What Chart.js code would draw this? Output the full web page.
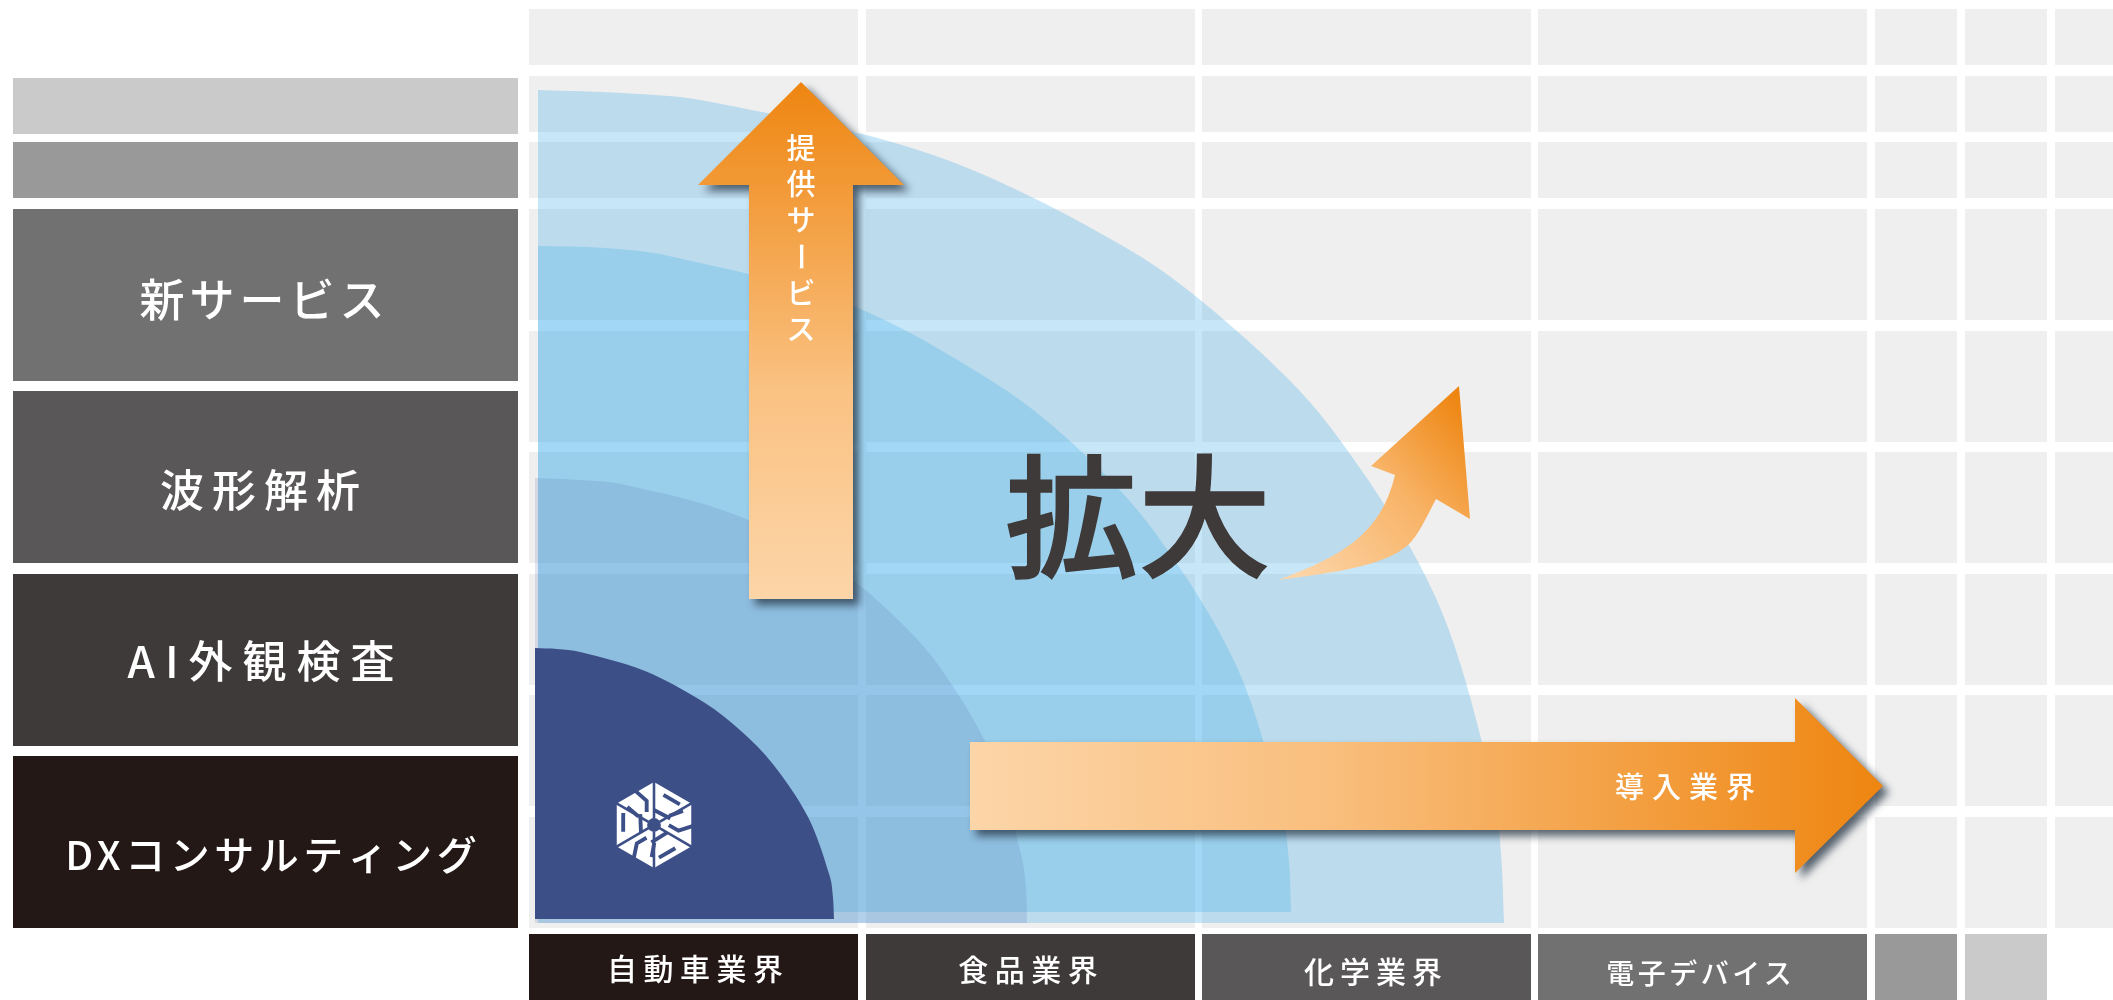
<!DOCTYPE html>
<html lang="ja">
<head>
<meta charset="utf-8">
<title>提供サービスと導入業界の拡大</title>
<style>
  html, body { margin: 0; padding: 0; background: #ffffff; }
  canvas { display: block; }
</style>
<script src="https://cdn.jsdelivr.net/npm/chart.js@4/dist/chart.umd.min.js"></script>
</head>
<body>
<canvas id="chart" width="2113" height="1000"></canvas>
<script>
// Labels
const serviceLabels = ['', '', '新サービス', '波形解析', 'AI外観検査', 'DXコンサルティング'];
const industryLabels = ['自動車業界', '食品業界', '化学業界', '電子デバイス', '', ''];
const verticalArrowLabel = ['提', '供', 'サ', 'ー', 'ビ', 'ス'];
const horizontalArrowLabel = '導入業界';
const centerLabel = '拡大';

// Matrix bands, as [start, end] on the schematic axes
const columnBands = [[529, 858], [866, 1195], [1202, 1531], [1538, 1867], [1875, 1957], [1965, 2047], [2055, 2113]];
const rowBands = [[9, 65], [76, 132], [142, 198], [209, 320], [331, 442], [452, 563], [574, 685], [695, 806], [817, 928]];
const serviceBands = [[78, 134], [142, 198], [209, 381], [391, 563], [574, 746], [756, 928]];
const industryBands = [[529, 858], [866, 1195], [1202, 1531], [1538, 1867], [1875, 1957], [1965, 2047]];

// Outlines of the four coverage areas
const outerArea = [[538,90],[623,93],[706,101],[933,155],[1128,249],[1238,332],[1331,428],[1435,596],[1493,786],[1501,854],[1504,923]];
const secondArea = [[538,246],[605,248],[669,256],[846,303],[998,385],[1084,454],[1156,534],[1237,667],[1282,812],[1289,862],[1291,912]];
const thirdArea = [[535,478],[578,480],[621,484],[736,515],[836,568],[892,614],[939,666],[992,756],[1021,854],[1026,888],[1027,923]];
const coreArea = [[535,648],[557,649],[580,652],[645,671],[705,703],[741,731],[772,763],[808,817],[830,877],[833,898],[834,919]];

const asPoints = list => list.map(([x, y]) => ({ x, y }));

const GREYS = ['#cacaca', '#999999', '#727171', '#595757', '#3e3a39', '#231815'];
const JP = '"Noto Sans CJK JP", "Noto Sans", sans-serif';
const ORANGE = '#ee8510';
const PEACH = '#fcd5a8';

function drawLabel(ctx, text, cx, cy, size, spacing, color, weight) {
  ctx.save();
  ctx.font = `${weight || 500} ${size}px ${JP}`;
  ctx.letterSpacing = `${spacing}px`;
  ctx.fillStyle = color || '#ffffff';
  ctx.textAlign = 'center';
  ctx.textBaseline = 'middle';
  ctx.fillText(text, cx + spacing / 2, cy);
  ctx.restore();
}

function outline(ctx, x, y, points) {
  ctx.beginPath();
  points.forEach(([px, py], i) => {
    if (i === 0) ctx.moveTo(x(px), y(py));
    else ctx.lineTo(x(px), y(py));
  });
  ctx.closePath();
}

// Company mark: a hexagon cut by radial slits, with a pair of letter-like
// pieces repeated three times around the centre
function drawMark(ctx, cx, cy, R, fieldColor) {
  const seg = (pts, width) => {
    ctx.lineWidth = R * width;
    ctx.beginPath();
    pts.forEach(([px, py], i) => {
      if (i === 0) ctx.moveTo(px * R, py * R);
      else ctx.lineTo(px * R, py * R);
    });
    ctx.stroke();
  };
  ctx.save();
  ctx.translate(cx, cy);
  ctx.fillStyle = '#ffffff';
  ctx.beginPath();
  for (let k = 0; k < 6; k++) {
    const a = k * Math.PI / 3;
    const px = R * Math.sin(a), py = -R * Math.cos(a);
    if (k === 0) ctx.moveTo(px, py); else ctx.lineTo(px, py);
  }
  ctx.closePath();
  ctx.fill();
  ctx.strokeStyle = fieldColor;
  ctx.lineJoin = 'miter';
  for (let k = 0; k < 3; k++) {
    ctx.save();
    ctx.rotate(k * 2 * Math.PI / 3);
    seg([[0, -1.05], [0, -0.15]], 0.06);
    seg([[0.91, -0.525], [0.13, -0.075]], 0.06);
    seg([[0.22, -0.70], [0.60, -0.48]], 0.09);
    seg([[0, -0.35], [0.38, -0.15]], 0.09);
    seg([[-0.44, -0.8], [-0.17, -0.56], [-0.17, -0.3]], 0.09);
    seg([[-0.62, -0.42], [-0.36, -0.2]], 0.09);
    ctx.restore();
  }
  ctx.fillStyle = fieldColor;
  ctx.beginPath();
  ctx.arc(0, 0, R * 0.16, 0, Math.PI * 2);
  ctx.fill();
  ctx.restore();
}

const matrixPlugin = {
  id: 'matrix',
  beforeDatasetsDraw(chart) {
    const { ctx, scales: { x, y } } = chart;
    const fillBand = (x0, x1, y0, y1, color) => {
      ctx.fillStyle = color;
      ctx.fillRect(x.getPixelForValue(x0), y.getPixelForValue(y0),
                   x.getPixelForValue(x1) - x.getPixelForValue(x0),
                   y.getPixelForValue(y1) - y.getPixelForValue(y0));
    };
    ctx.save();
    rowBands.forEach(([y0, y1]) => columnBands.forEach(([x0, x1]) => fillBand(x0, x1, y0, y1, '#efefef')));
    serviceBands.forEach(([y0, y1], i) => fillBand(13, 518, y0, y1, GREYS[i]));
    industryBands.forEach(([x0, x1], i) => fillBand(x0, x1, 934, 1000, GREYS[5 - i]));
    ctx.restore();
  }
};

const overlayPlugin = {
  id: 'overlay',
  afterDatasetsDraw(chart) {
    const { ctx, scales: { x, y } } = chart;
    const X = v => x.getPixelForValue(v), Y = v => y.getPixelForValue(v);

    // Service names on the left, industry names along the bottom
    const serviceCenters = [[0, 0], [0, 0], [262, 300], [260, 490], [261, 661], [271, 855]];
    const serviceSizes = [0, 0, 45, 44, 44, 40];
    const serviceSpacing = [0, 0, 5, 8, 10, 4.5];
    serviceLabels.forEach((t, i) => {
      if (t) drawLabel(ctx, t, X(serviceCenters[i][0]), Y(serviceCenters[i][1]), serviceSizes[i], serviceSpacing[i]);
    });
    const industryCenters = [[695, 969], [1028, 970], [1373, 972], [1699, 973]];
    const industrySizes = [30, 30, 30, 28];
    const industrySpacing = [6.5, 6.5, 6, 3.5];
    industryLabels.forEach((t, i) => {
      if (t) drawLabel(ctx, t, X(industryCenters[i][0]), Y(industryCenters[i][1]), industrySizes[i], industrySpacing[i]);
    });

    drawMark(ctx, X(654), Y(825), 43, '#3d4f87');

    // Upward arrow
    ctx.save();
    ctx.shadowColor = 'rgba(35,50,65,0.75)';
    ctx.shadowBlur = 8;
    ctx.shadowOffsetX = 6;
    ctx.shadowOffsetY = 6;
    let g = ctx.createLinearGradient(0, Y(82), 0, Y(599));
    g.addColorStop(0, ORANGE);
    g.addColorStop(0.6, '#fac283');
    g.addColorStop(1, PEACH);
    ctx.fillStyle = g;
    outline(ctx, X, Y, [[801,82],[904,185],[853,185],[853,599],[749,599],[749,185],[698,185]]);
    ctx.fill();

    // Rightward arrow
    g = ctx.createLinearGradient(X(970), 0, X(1883), 0);
    g.addColorStop(0, PEACH);
    g.addColorStop(0.4, '#f9be7c');
    g.addColorStop(1, ORANGE);
    ctx.fillStyle = g;
    outline(ctx, X, Y, [[970,742],[1795,742],[1795,698],[1883,786],[1795,873],[1795,830],[970,830]]);
    ctx.fill();
    ctx.restore();

    // Curved arrow beside the central word
    g = ctx.createLinearGradient(X(1300), Y(580), X(1480), Y(420));
    g.addColorStop(0, PEACH);
    g.addColorStop(0.55, '#f8b468');
    g.addColorStop(1, ORANGE);
    ctx.fillStyle = g;
    ctx.beginPath();
    ctx.moveTo(X(1459), Y(386));
    ctx.lineTo(X(1470), Y(519));
    ctx.lineTo(X(1436), Y(499));
    ctx.bezierCurveTo(X(1426), Y(518), X(1418), Y(536), X(1408), Y(545));
    ctx.bezierCurveTo(X(1385), Y(566), X(1332), Y(573), X(1278), Y(580));
    ctx.bezierCurveTo(X(1340), Y(557), X(1381), Y(535), X(1395), Y(475));
    ctx.lineTo(X(1371), Y(466));
    ctx.closePath();
    ctx.fill();

    // Text on top of the arrows
    verticalArrowLabel.forEach((ch, i) => {
      const cy = Y(148 + i * 36.2);
      if (ch === 'ー') {
        ctx.save();
        ctx.translate(X(801), cy);
        ctx.rotate(Math.PI / 2);
        drawLabel(ctx, ch, 0, 0, 29, 0);
        ctx.restore();
      } else {
        drawLabel(ctx, ch, X(801), cy, 29, 0);
      }
    });
    drawLabel(ctx, horizontalArrowLabel, X(1685), Y(787), 29, 8);
    ctx.save();
    ctx.strokeStyle = '#3e3a39';
    ctx.lineWidth = 1.5;
    ctx.font = `500 133px ${JP}`;
    ctx.textAlign = 'center';
    ctx.textBaseline = 'middle';
    ctx.strokeText(centerLabel, X(1138), Y(516));
    ctx.restore();
    drawLabel(ctx, centerLabel, X(1138), Y(516), 133, 0, '#3e3a39');
  }
};

new Chart(document.getElementById('chart'), {
  type: 'scatter',
  data: {
    datasets: [
      { label: '外周', data: asPoints(outerArea), backgroundColor: 'rgba(68,172,232,0.3)' },
      { label: '第二層', data: asPoints(secondArea), backgroundColor: 'rgba(17,158,230,0.2)' },
      { label: '第三層', data: asPoints(thirdArea), backgroundColor: 'rgba(86,111,173,0.18)' },
      { label: '中核', data: asPoints(coreArea), backgroundColor: '#3d4f87' }
    ].map((set, i) => ({
      ...set,
      showLine: true,
      tension: 0.33,
      pointRadius: 0,
      borderWidth: 0,
      fill: { value: [923, 912, 923, 919][i] },
      order: 4 - i
    }))
  },
  options: {
    responsive: false,
    animation: false,
    devicePixelRatio: 1,
    layout: { padding: 0 },
    plugins: { legend: { display: false }, tooltip: { enabled: false } },
    events: [],
    scales: {
      x: { type: 'linear', min: 0, max: 2113, display: false },
      y: { type: 'linear', min: 0, max: 1000, reverse: true, display: false }
    }
  },
  plugins: [matrixPlugin, overlayPlugin]
});
</script>
</body>
</html>
